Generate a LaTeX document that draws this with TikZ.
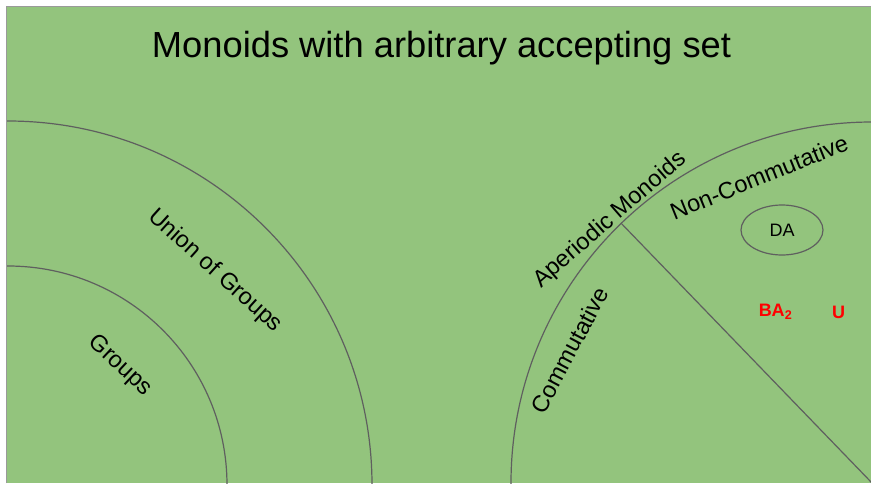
\documentclass[tikz,border=0pt]{standalone}
\usepackage{fontspec}
\setmainfont{Liberation Sans}
\usetikzlibrary{shapes.geometric,calc}
\definecolor{bggreen}{HTML}{93C47D}
\definecolor{linegray}{HTML}{5F5F5F}
\definecolor{framegray}{HTML}{9A9A9A}
\begin{document}
\begin{tikzpicture}[x=1pt,y=-1pt,
  arcline/.style={draw=linegray, line width=1.2pt},
  lbl/.style={font=\fontsize{23.5}{27}\selectfont, inner sep=0pt, text=black},
  titlestyle/.style={font=\fontsize{36.3}{40}\selectfont, inner sep=0pt, anchor=base},
  redlbl/.style={font=\fontsize{18}{20}\selectfont\bfseries, inner sep=0pt, text=red},
  classellipse/.style={ellipse, draw=linegray, line width=1.2pt, minimum width=82pt, minimum height=50pt, inner sep=0pt, font=\fontsize{18}{20}\selectfont}]
\useasboundingbox (0,0) rectangle (871,483);
\fill[white] (0,0) rectangle (871,483);
\fill[bggreen] (7,7) rectangle (871,483);
\draw[framegray, line width=1pt] (6.5,483) -- (6.5,6.5) -- (871,6.5);
\coordinate (lc) at (8,485);
\coordinate (rc) at (872,483);
\coordinate (rp) at ($(872,483)+(134:361pt)$);
\begin{scope}
\clip (7,7) rectangle (871,483);
\draw[arcline] (lc) circle (364pt);
\draw[arcline] (lc) circle (219pt);
\draw[arcline] (rc) circle (361pt);
\draw[arcline] (rp) -- (rc);
\end{scope}
\node[titlestyle] (title) at (441.5,57) {Monoids with arbitrary accepting set};
\node[lbl, rotate=-42] (union) at (215,271) {Union of Groups};
\node[lbl, rotate=-43] (groups) at (120,366) {Groups};
\node[lbl, rotate=41] (aper) at (610,220) {Aperiodic Monoids};
\node[lbl, rotate=22] (noncomm) at (759,177) {Non-Commutative};
\node[lbl, rotate=62] (comm) at (569.5,350) {Commutative};
\node[classellipse] (da) at (782,230) {DA};
\node[redlbl] (ba) at (775.5,312) {BA\textsubscript{2}};
\node[redlbl] (u) at (838.5,312.5) {U};
\end{tikzpicture}
\end{document}
